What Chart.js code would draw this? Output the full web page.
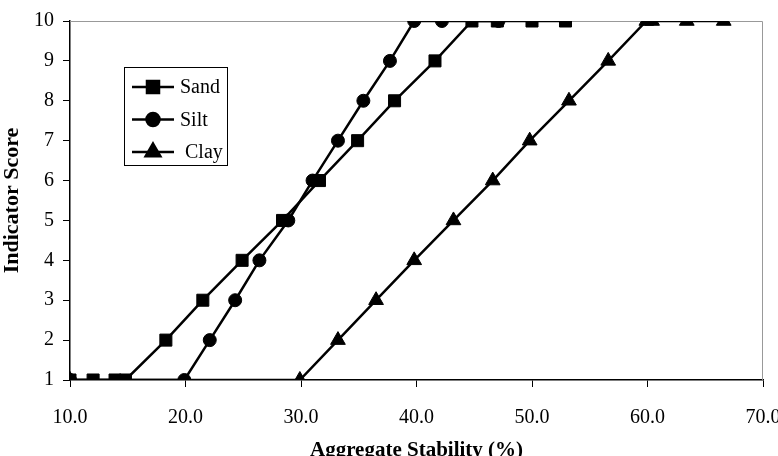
<!DOCTYPE html>
<html>
<head>
<meta charset="utf-8">
<script src="https://cdn.jsdelivr.net/npm/chart.js@4"></script>
<style>
  html, body { margin: 0; padding: 0; background: #fff; }
  #wrap { width: 778px; height: 456px; position: relative; }
</style>
</head>
<body>
<div id="wrap"><canvas id="chart"></canvas></div>
<script>
// Data
const sandX = [10.0, 12.0, 13.9, 14.8, 18.3, 21.5, 24.9, 28.4, 31.6, 34.9, 38.1, 41.6, 44.8, 47.0, 50.0, 52.9];
const sandY = [1, 1, 1, 1, 2, 3, 4, 5, 6, 7, 8, 9, 10, 10, 10, 10];

const siltX = [10.0, 19.9, 22.1, 24.3, 26.4, 28.9, 31.0, 33.2, 35.4, 37.7, 39.8, 42.2, 47.1];
const siltY = [1, 1, 2, 3, 4, 5, 6, 7, 8, 9, 10, 10, 10];

const clayX = [10.0, 29.9, 33.2, 36.5, 39.8, 43.2, 46.6, 49.8, 53.2, 56.6, 59.9, 60.4, 63.4, 66.6];
const clayY = [1, 1, 2, 3, 4, 5, 6, 7, 8, 9, 10, 10, 10, 10];

const seriesNames = ['Sand', 'Silt', 'Clay'];
const seriesStyles = ['rect', 'circle', 'triangle'];
const xTicks = [10, 20, 30, 40, 50, 60, 70];
const yTicks = [1, 2, 3, 4, 5, 6, 7, 8, 9, 10];

const xTitle = 'Aggregate Stability (%)';
const yTitle = 'Indicator Score';

const serif = "'Liberation Serif', 'Times New Roman', serif";

function pairs(xs, ys) {
    return xs.map((x, i) => ({ x: x, y: ys[i] }));
}

const radii = { rect: 8.5, circle: 6.5, triangle: 8.5 };

function makeSet(label, xs, ys, style) {
    return {
        label: label,
        data: pairs(xs, ys),
        borderColor: '#000',
        backgroundColor: '#000',
        borderWidth: 2.5,
        pointStyle: style,
        pointRadius: radii[style],
        pointBorderWidth: 1,
        pointBackgroundColor: '#000',
        pointBorderColor: '#000',
        tension: 0
    };
}

// grey frame on top / right of plot area
const framePlugin = {
    id: 'frame',
    beforeDatasetsDraw(chart) {
        const { ctx, chartArea: a } = chart;
        ctx.save();
        ctx.strokeStyle = '#999';
        ctx.lineWidth = 1;
        ctx.beginPath();
        ctx.moveTo(a.left, a.top + 0.5);
        ctx.lineTo(a.right - 0.5, a.top + 0.5);
        ctx.lineTo(a.right - 0.5, a.bottom);
        ctx.stroke();
        ctx.restore();
    }
};

// boxed legend inside the plot, Excel style
const boxLegend = {
    id: 'boxLegend',
    afterDatasetsDraw(chart) {
        const ctx = chart.ctx;
        const box = { x: 124.5, y: 67.5, w: 103, h: 98 };
        ctx.save();
        ctx.fillStyle = '#fff';
        ctx.fillRect(box.x, box.y, box.w, box.h);
        ctx.strokeStyle = '#000';
        ctx.lineWidth = 1;
        ctx.strokeRect(box.x, box.y, box.w, box.h);
        chart.data.datasets.forEach((ds, i) => {
            const y = 87 + i * 32.5;
            ctx.strokeStyle = '#000';
            ctx.lineWidth = 2.5;
            ctx.beginPath();
            ctx.moveTo(132, y);
            ctx.lineTo(174, y);
            ctx.stroke();
            ctx.fillStyle = '#000';
            Chart.helpers.drawPoint(ctx, {
                pointStyle: ds.pointStyle,
                radius: ds.pointRadius,
                borderWidth: 1,
                rotation: 0
            }, 153, y);
            ctx.font = '20px ' + serif;
            ctx.textBaseline = 'middle';
            ctx.textAlign = 'left';
            ctx.fillText(ds.label, i === 2 ? 185 : 180, y + 1);
        });
        ctx.restore();
    }
};

const ctx = document.getElementById('chart').getContext('2d');
new Chart(ctx, {
    type: 'line',
    data: {
        datasets: [
            makeSet(seriesNames[0], sandX, sandY, seriesStyles[0]),
            makeSet(seriesNames[1], siltX, siltY, seriesStyles[1]),
            makeSet(seriesNames[2], clayX, clayY, seriesStyles[2])
        ]
    },
    options: {
        responsive: true,
        maintainAspectRatio: false,
        animation: false,
        layout: { padding: { top: 21, right: 15, left: 0, bottom: 0 } },
        plugins: {
            legend: { display: false },
            tooltip: { enabled: false }
        },
        scales: {
            x: {
                type: 'linear',
                min: 10,
                max: 70,
                afterBuildTicks: s => { s.ticks = xTicks.map(v => ({ value: v })); },
                afterFit: s => { s.height = 76; s.paddingLeft = 0; s.paddingRight = 0; },
                border: { color: '#000', width: 1.5 },
                grid: { drawOnChartArea: false, drawTicks: true, tickLength: 7, tickColor: '#000', tickWidth: 1 },
                ticks: {
                    color: '#000',
                    padding: 19,
                    font: { family: serif, size: 20 },
                    callback: v => v.toFixed(1)
                },
                title: {
                    display: true,
                    text: xTitle,
                    color: '#000',
                    font: { family: serif, size: 21, weight: 'bold' },
                    padding: { top: 0, bottom: -7 }
                }
            },
            y: {
                type: 'linear',
                min: 1,
                max: 10,
                afterBuildTicks: s => { s.ticks = yTicks.map(v => ({ value: v })); },
                afterFit: s => { s.width = 70; s.paddingTop = 0; s.paddingBottom = 0; },
                border: { color: '#000', width: 1.5 },
                grid: { drawOnChartArea: false, drawTicks: true, tickLength: 7, tickColor: '#000', tickWidth: 1 },
                ticks: {
                    color: '#000',
                    padding: 9,
                    font: { family: serif, size: 20 }
                },
                title: {
                    display: true,
                    text: yTitle,
                    color: '#000',
                    font: { family: serif, size: 22, weight: 'bold' },
                    padding: { top: -1, bottom: 0 }
                }
            }
        }
    },
    plugins: [framePlugin, boxLegend]
});
</script>
</body>
</html>
